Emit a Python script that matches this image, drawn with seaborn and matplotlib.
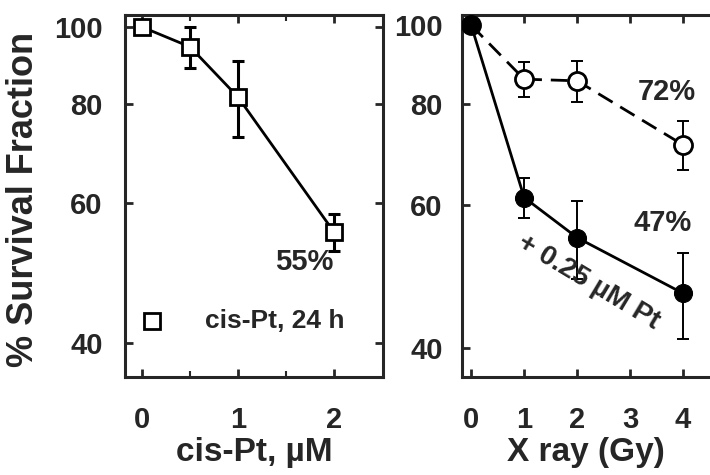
import matplotlib
matplotlib.use("Agg")
import matplotlib.pyplot as plt
import seaborn as sns
import pandas as pd

# data
pt_dose = [0, 0.5, 1, 2]
pt_surv = [100, 94.4, 81.6, 55.2]
pt_err = [0.8, 5.6, 9.0, 3.0]

xray_dose = [0, 1, 2, 4]
xray_alone = [100, 85.8, 85.4, 71.2]
xray_alone_err = [0, 4.3, 5.0, 5.0]
xray_pt = [100, 61.3, 54.7, 46.7]
xray_pt_err = [0, 3.5, 6.0, 5.7]

y_ticks = [40, 60, 80, 100]

sns.set_style("ticks")
plt.rcParams.update({
    "font.family": ["Liberation Sans", "DejaVu Sans"],
    "font.weight": "bold",
    "axes.linewidth": 2.2,
    "xtick.direction": "in",
    "ytick.direction": "in",
    "xtick.major.width": 2,
    "ytick.major.width": 2,
    "xtick.major.size": 6,
    "ytick.major.size": 6,
    "xtick.minor.size": 4,
    "xtick.minor.width": 1.5,
})

fig = plt.figure(figsize=(7.1, 4.75), dpi=100)
ax1 = fig.add_axes([0.176, 0.206, 0.363, 0.762])
ax2 = fig.add_axes([0.651, 0.206, 0.349, 0.762])

# left panel: cis-Pt alone
df1 = pd.DataFrame({"dose": pt_dose, "surv": pt_surv})
sns.lineplot(data=df1, x="dose", y="surv", ax=ax1, color="black", lw=2,
             marker="s", markersize=11, markerfacecolor="white",
             markeredgecolor="black", markeredgewidth=2, zorder=3)
ax1.errorbar(pt_dose[1:], pt_surv[1:], yerr=pt_err[1:], fmt="none",
             ecolor="black", elinewidth=2.2, capsize=4, capthick=2.2, zorder=2)

# right panel: X ray with / without Pt
df2 = pd.DataFrame({"dose": xray_dose, "alone": xray_alone, "pt": xray_pt})
sns.lineplot(data=df2, x="dose", y="alone", ax=ax2, color="black", lw=2,
             dashes=(6, 3.2), marker="o", markersize=13, markerfacecolor="white",
             markeredgecolor="black", markeredgewidth=2, zorder=3)
sns.lineplot(data=df2, x="dose", y="pt", ax=ax2, color="black", lw=2,
             marker="o", markersize=13, markerfacecolor="black",
             markeredgecolor="black", zorder=4)
ax2.errorbar(xray_dose[1:], xray_alone[1:], yerr=xray_alone_err[1:], fmt="none",
             ecolor="black", elinewidth=1.4, capsize=4, capthick=1.4, zorder=2)
ax2.errorbar(xray_dose[1:], xray_pt[1:], yerr=xray_pt_err[1:], fmt="none",
             ecolor="black", elinewidth=1.4, capsize=4, capthick=1.4, zorder=2)

for ax in (ax1, ax2):
    ax.set_yscale("log")
    ax.set_yticks(y_ticks)
    ax.set_yticklabels([str(v) for v in y_ticks])
    ax.minorticks_off()
    ax.tick_params(axis="both", labelsize=21, top=True, right=True)
    ax.tick_params(axis="x", pad=21)
    for lab in ax.get_xticklabels() + ax.get_yticklabels():
        lab.set_fontweight("bold")

ax1.tick_params(axis="y", pad=16)
ax2.tick_params(axis="y", pad=14)

ax1.set_ylim(36.2, 103.5)
ax1.set_xlim(-0.18, 2.51)
ax1.set_xticks([0, 1, 2])
ax1.set_xticks([0.5, 1.5], minor=True)
ax1.tick_params(axis="x", which="minor", direction="in", top=True)
ax1.set_xlabel("cis-Pt, µM", fontsize=24, fontweight="bold", labelpad=2)
ax1.set_ylabel("% Survival Fraction", fontsize=26, fontweight="bold")
ax1.yaxis.set_label_coords(-0.325, 0.49)
ax1.text(2.0, 50.5, "55%", fontsize=21, fontweight="bold", ha="right", va="center")
ax1.plot([0.1], [42.6], marker="s", markersize=11, markerfacecolor="white",
         markeredgecolor="black", markeredgewidth=2, ls="none")
ax1.text(0.66, 42.6, "cis-Pt, 24 h", fontsize=19, fontweight="bold", va="center")

ax2.set_ylim(36.8, 102.9)
ax2.set_xlim(-0.17, 4.51)
ax2.set_xticks([0, 1, 2, 3, 4])
ax2.spines["right"].set_visible(False)
ax2.tick_params(right=False)
ax2.set_xlabel("X ray (Gy)", fontsize=24, fontweight="bold", labelpad=2)
ax2.set_ylabel("")
ax2.text(3.7, 82.8, "72%", fontsize=21, fontweight="bold", ha="center", va="center")
ax2.text(3.62, 57.0, "47%", fontsize=21, fontweight="bold", ha="center", va="center")
ax2.text(2.22, 48.2, "+ 0.25 µM Pt", fontsize=20, fontweight="bold",
         ha="center", va="center", rotation=-31, rotation_mode="anchor")

fig.savefig("out.png", dpi=100)
